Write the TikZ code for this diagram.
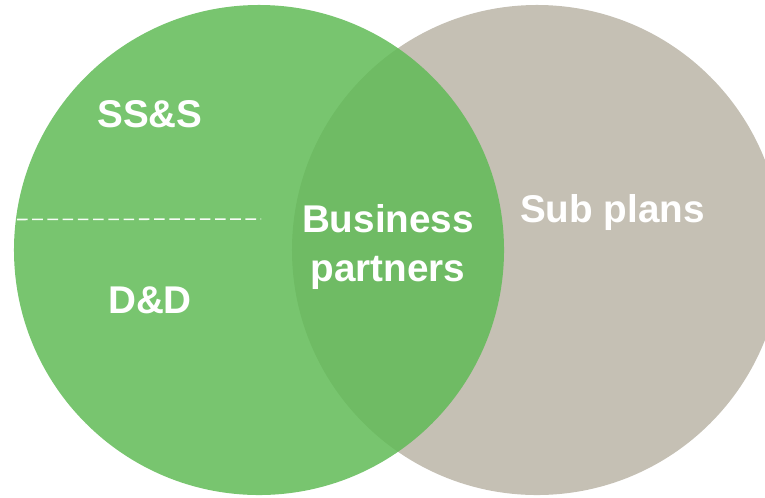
\documentclass[tikz,border=0pt]{standalone}
\usepackage{fontspec}
\setmainfont{Liberation Sans}
\usetikzlibrary{positioning}
\definecolor{vennGreen}{RGB}{96,187,86}
\definecolor{vennGray}{RGB}{197,192,180}

\begin{document}
\begin{tikzpicture}[x=0.03cm, y=-0.03cm,
        lbl/.style={text=white, font=\bfseries\fontsize{33}{41}\selectfont, inner sep=0pt, align=center},
        set_green/.style={fill=vennGreen, fill opacity=.85},
        set_gray/.style={fill=vennGray},
        splitline/.style={draw=white, draw opacity=.95, line width=1.3pt, dash pattern=on 9pt off 4pt}]

        \useasboundingbox (0,0) rectangle (765,497);
        \clip (0,0) rectangle (765,497);

        %% the two sets
        \coordinate (c_green) at (259,250);
        \coordinate (c_gray) at (537,250);
        \fill [set_gray] (c_gray) circle [radius=7.35cm];
        \fill [set_green] (c_green) circle [radius=7.35cm];

        %% split of the left set
        \coordinate (split_l) at (17,219.5);
        \coordinate (split_r) at (261,219);
        \draw [splitline] (split_l) -- (split_r);

        %% labels (base of a two-line node = last line)
        \node [lbl, anchor=base] (lbl_sss) at (150,127) {SS\&S};
        \node [lbl, anchor=base] (lbl_dd) at (150,313) {D\&D};
        \node [lbl, anchor=base] (lbl_bp) at (388,281) {Business\\partners};
        \node [lbl, anchor=base] (lbl_sub) at (612.5,222) {Sub plans};

      \end{tikzpicture}
\end{document}
